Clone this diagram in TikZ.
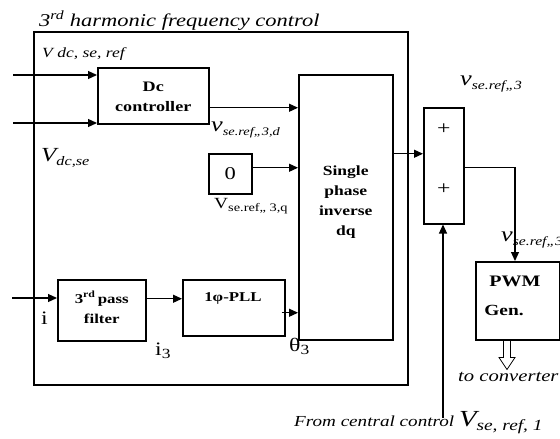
\documentclass[tikz,border=0pt]{standalone}
\usepackage{fontspec}
\setmainfont{Liberation Serif}[ItalicFont={* Italic},BoldFont={* Bold},BoldItalicFont={* Bold Italic},FakeStretch=1.25]
\usetikzlibrary{arrows.meta,calc}
\newcommand{\lsub}[2][10]{\raisebox{-0.45ex}{\fontsize{#1}{#1}\selectfont #2}}
\newcommand{\fs}[1]{\fontsize{#1}{#1}\selectfont}
\begin{document}
\begin{tikzpicture}[x=1pt,y=-1pt,
 blk/.style={draw,line width=1.5pt,inner sep=0pt,anchor=north west,font=\bfseries\fs{14},align=center},
 txt/.style={inner sep=0pt,align=center},
 arr/.style={line width=1.2pt,-{Triangle[length=9pt,width=8pt]}},
 lbl/.style={inner sep=0pt,anchor=base west}]
\useasboundingbox (0,0) rectangle (560,439);
% frame and title
\node[blk,minimum width=374pt,minimum height=353pt] (frame) at (33,31) {};
\node[lbl,font=\itshape\fs{18}] (title) at (39,26) {3\textsuperscript{rd} harmonic frequency control};
% blocks
\node[blk,minimum width=111pt,minimum height=56pt] (dc) at (97,67) {};
\node[txt,font=\bfseries\fontsize{14.5}{20}\selectfont] (dct) at ($(dc.center)+(0,1)$) {Dc\\controller};
\node[blk,minimum width=43pt,minimum height=40pt,font=\fs{18}] (zero) at (208,153) {0};
\node[blk,minimum width=94pt,minimum height=265pt] (sp) at (298,74) {};
\node[txt,font=\bfseries\fontsize{14}{20}\selectfont] (spt) at ($(sp.center)+(0,-5)$) {Single\\phase\\inverse\\dq};
\node[blk,minimum width=40pt,minimum height=116pt] (sum) at (423,107) {};
\node[txt,font=\fs{19}] (p1) at ($(sum.north)+(0,22)$) {+};
\node[txt,font=\fs{19}] (p2) at ($(sum.south)+(0,-35)$) {+};
\node[blk,minimum width=84pt,minimum height=78pt] (pwm) at (475,261) {};
\node[txt,font=\bfseries\fs{16}] (pwmt) at (515,281) {PWM};
\node[txt,font=\bfseries\fs{15.5}] (gent) at (504,310) {Gen.};
\node[blk,minimum width=88pt,minimum height=61pt] (filt) at (57,279) {};
\node[txt,font=\bfseries\fontsize{13.5}{20}\selectfont] (filtt) at ($(filt.center)+(0,-3)$) {3\textsuperscript{rd}\,pass\\filter};
\node[blk,minimum width=102pt,minimum height=56pt] (pll) at (182,279) {};
\node[txt,font=\bfseries\fs{13.5}] (pllt) at (233,298) {1φ-PLL};
% inputs
\coordinate (in1) at (13,75);
\coordinate (in2) at (13,123);
\coordinate (in3) at (12,298);
\coordinate (cc) at (443,418);
\draw[arr] (in1) -- (in1 -| dc.west);
\draw[arr] (in2) -- (in2 -| dc.west);
\draw[arr] (in3) -- (in3 -| filt.west);
% internal connectors
\draw[arr] ($(dc.east)+(0,12)$) coordinate (a1) -- (a1 -| sp.west);
\draw[arr] ($(zero.east)+(0,-6)$) coordinate (a2) -- (a2 -| sp.west);
\draw[arr] ($(filt.east)+(0,-11.5)$) coordinate (a3) -- (a3 -| pll.west);
\draw[arr] ($(pll.east)+(-4,5)$) coordinate (a4) -- (a4 -| sp.west);
\draw[arr] ($(sp.east)+(0,-53.5)$) coordinate (a5) -- (a5 -| sum.west);
\draw[arr] ($(sum.east)+(0,2)$) -| ($(pwm.north west)+(40,0)$);
\draw[arr] (cc) -- (cc |- sum.south);
% hollow arrow
\draw[line width=0.8pt] ($(pwm.south west)+(28.5,0)$) -- ++(0,17) -- ++(-4.5,0) -- ++(8,12) -- ++(8,-12) -- ++(-4.5,0) -- ++(0,-17);
% labels
\node[lbl,font=\itshape\fs{14}] (l1) at (42,57) {V dc, se, ref};
\node[lbl,font=\itshape\fs{20}] (l2) at (41,161) {V\lsub[13]{dc,se}};
\node[lbl,font=\itshape\fs{21}] (l3) at (211,131) {v\lsub[11.5]{se.ref,,3,d}};
\node[lbl,font=\fs{15.5}] (l4) at (214,208) {V\lsub[11.5]{se.ref,, 3,q}};
\node[lbl,font=\itshape\fs{21}] (l5) at (460,85) {v\lsub[12.5]{se.ref,,3}};
\node[lbl,font=\itshape\fs{21}] (l6) at (501,241) {v\lsub[12.5]{se.ref,,3}};
\node[lbl,font=\itshape\fs{16.5}] (l7) at (458,381) {to converter};
\node[lbl,font=\itshape\fs{15.3}] (l8) at (294,426) {From central control \fs{23}V\lsub[15.5]{se, ref, 1}};
\node[lbl,font=\fs{19}] (l9) at (41,324) {i};
\node[lbl,font=\fs{19}] (l10) at (155,355) {i\lsub[14]{3}};
\node[lbl,font=\fs{19}] (l11) at (289,351) {θ\lsub[14]{3}};
\end{tikzpicture}
\end{document}
